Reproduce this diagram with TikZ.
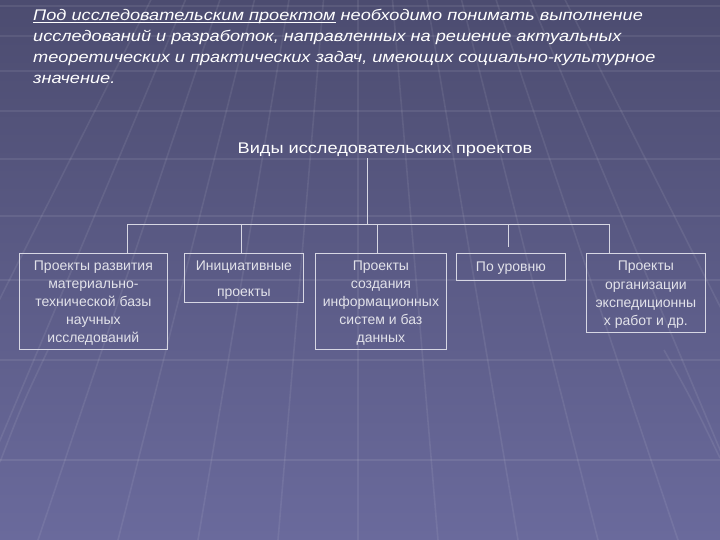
\documentclass[tikz,border=0pt]{standalone}
\usepackage{fontspec}
\setmainfont{Liberation Sans}
\newfontfamily\widefont[FakeStretch=1.18]{Liberation Sans}
\usetikzlibrary{calc}
\definecolor{bgtop}{RGB}{76,76,112}
\definecolor{bgbot}{RGB}{106,106,156}
\definecolor{boxc}{RGB}{215,215,228}
\definecolor{txtc}{RGB}{226,226,234}
\newsavebox\myulbox
\newcommand\myul[1]{\sbox\myulbox{#1}\rlap{\rule[-1.8pt]{\wd\myulbox}{0.8pt}}\usebox\myulbox}
\begin{document}
\begin{tikzpicture}[x=1pt,y=-1pt,
  box/.style={draw=boxc, line width=0.8pt, inner sep=0pt, anchor=north west},
  btxt/.style={align=center, inner sep=0pt, anchor=north,
    font=\fontsize{14}{18}\selectfont, text=txtc},
  conn/.style={draw=boxc, line width=0.8pt},
  para/.style={anchor=base west, inner sep=0pt, font=\widefont\fontsize{15.4}{20}\selectfont\itshape, text=white},
  gridl/.style={draw=white, opacity=0.08, line width=1.6pt}]
\useasboundingbox (0,0) rectangle (720,540);
\shade[top color=bgtop, bottom color=bgbot] (0,0) rectangle (720,540);
% perspective floor
\foreach \k in {-6,...,6}{
  \draw[gridl] (358+80*\k,540) -- ($(358,-410)!0.43!(358+80*\k,540)$);
}
\foreach \yy in {6,36,71,111,159,216,280,360,460}{
  \draw[gridl] (0,\yy) -- (720,\yy);
}
\draw[gridl] (0,462) .. controls (22,405) .. (48,350);
\draw[gridl] (664,350) .. controls (692,400) .. (720,458);
% paragraph
\node[para] (p1) at (33,21) {\myul{Под исследовательским проектом} необходимо понимать выполнение};
\node[para] (p2) at (33,42) {исследований и разработок, направленных на решение актуальных};
\node[para] (p3) at (33,63) {теоретических и практических задач, имеющих социально-культурное};
\node[para] (p4) at (33,84) {значение.};
% root
\node[anchor=base, inner sep=0pt, font=\widefont\fontsize{15.4}{18}\selectfont, text=white] (root) at (385,153.5) {Виды исследовательских проектов};
% boxes
\node[box, minimum width=148, minimum height=96] (b1) at (19,253) {};
\node[box, minimum width=119, minimum height=49] (b2) at (184,253) {};
\node[box, minimum width=131, minimum height=96] (b3) at (315,253) {};
\node[box, minimum width=109, minimum height=27] (b4) at (456,253) {};
\node[box, minimum width=119, minimum height=79] (b5) at (586,253) {};
\node[btxt] (t1) at (b1.center |- 0,261) {Проекты развития\\материально-\\технической базы\\научных\\исследований};
\node[btxt, font=\fontsize{14}{25.5}\selectfont] (t2) at (b2.center |- 0,261) {Инициативные\\проекты};
\node[btxt] (t3) at (b3.center |- 0,261) {Проекты\\создания\\информационных\\систем и баз\\данных};
\node[btxt] (t4) at (b4.center |- 0,262) {По уровню};
\node[btxt, font=\fontsize{14}{18.3}\selectfont] (t5) at (b5.center |- 0,261) {Проекты\\организации\\экспедиционны\\х работ и др.};
% connectors
\coordinate (t0) at (367,158);
\coordinate (tj) at (367,224);
\coordinate (d1) at (127,224);
\coordinate (d2) at (241,224);
\coordinate (d3) at (377,224);
\coordinate (d4) at (508,224);
\coordinate (e4) at (508,247);
\coordinate (d5) at (609,224);
\draw[conn] (t0) -- (tj);
\draw[conn] (d1) -- (d5);
\draw[conn] (d1) -- (d1 |- b1.north);
\draw[conn] (d2) -- (d2 |- b2.north);
\draw[conn] (d3) -- (d3 |- b3.north);
\draw[conn] (d4) -- (e4);
\draw[conn] (d5) -- (d5 |- b5.north);
\end{tikzpicture}
\end{document}
